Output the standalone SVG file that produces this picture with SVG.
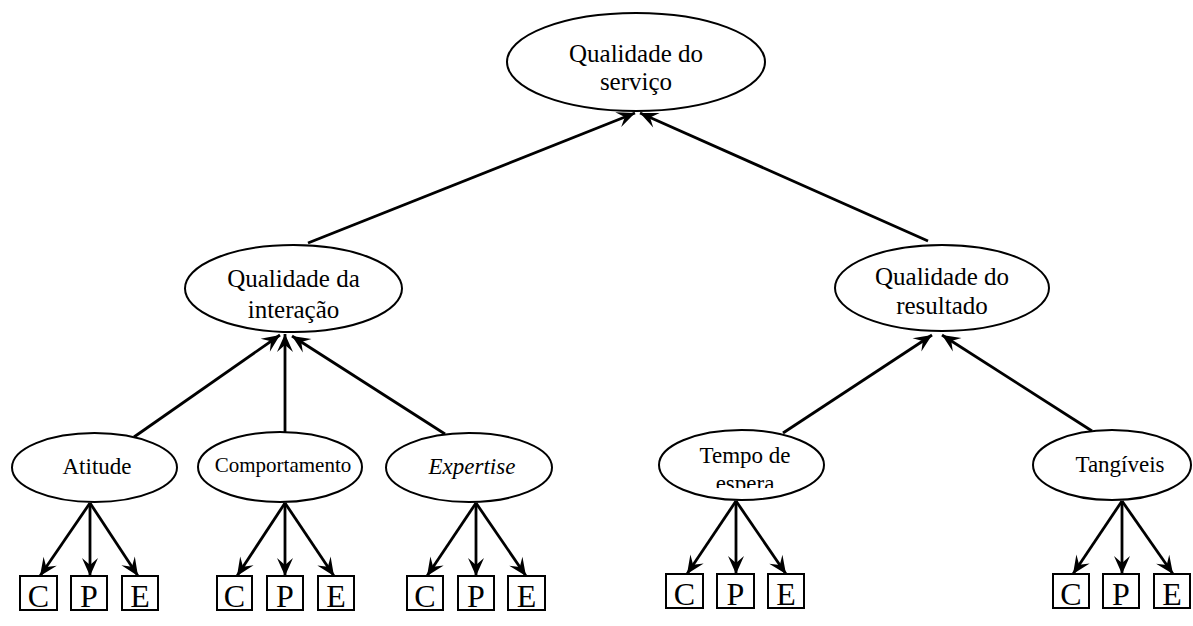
<svg xmlns="http://www.w3.org/2000/svg" width="1193" height="626" viewBox="0 0 1193 626">
  <style>
    .node ellipse { fill: #fff; stroke: #000; stroke-width: 2; }
    .box rect { fill: #fff; stroke: #000; stroke-width: 2; }
    text { font-family: "Liberation Serif", "Times New Roman", serif; fill: #000; text-anchor: middle; }
    .lbl { font-size: 25px; }
    .lbl-s { font-size: 23px; }
    .lbl-xs { font-size: 21px; }
    .letter { font-size: 32px; }
    .conn line { stroke: #000; stroke-width: 2.8; marker-end: url(#head); }
  </style>
  <defs>
    <marker id="head" viewBox="-19 -9 20 18" refX="0" refY="0" markerUnits="userSpaceOnUse" markerWidth="20" markerHeight="18" orient="auto">
      <path d="M0,0 L-18,-8 L-11,0 L-18,8 Z" fill="#000"/>
    </marker>
    <clipPath id="clipEspera">
      <rect x="650" y="420" width="190" height="68"/>
    </clipPath>
  </defs>

  <!-- connectors -->
  <g id="connectors" class="conn">
    <line x1="308" y1="243" x2="635" y2="113"/>
    <line x1="928" y1="241" x2="640" y2="113"/>
    <line x1="134" y1="437" x2="280" y2="335"/>
    <line x1="285" y1="433" x2="285" y2="334"/>
    <line x1="445" y1="434" x2="292" y2="336"/>
    <line x1="783" y1="433" x2="932" y2="335"/>
    <line x1="1092" y1="431" x2="942" y2="335"/>
    <!-- Atitude -->
    <line x1="90" y1="503" x2="40" y2="576"/>
    <line x1="90" y1="503" x2="90" y2="576"/>
    <line x1="90" y1="503" x2="138" y2="576"/>
    <!-- Comportamento -->
    <line x1="285" y1="503" x2="237" y2="576"/>
    <line x1="285" y1="503" x2="285" y2="576"/>
    <line x1="285" y1="503" x2="334" y2="576"/>
    <!-- Expertise -->
    <line x1="476" y1="503" x2="427" y2="576"/>
    <line x1="476" y1="503" x2="476" y2="576"/>
    <line x1="476" y1="503" x2="526" y2="576"/>
    <!-- Tempo de espera -->
    <line x1="736" y1="501" x2="687" y2="574"/>
    <line x1="736" y1="501" x2="736" y2="574"/>
    <line x1="736" y1="501" x2="786" y2="574"/>
    <!-- Tangiveis -->
    <line x1="1122" y1="501" x2="1073" y2="574"/>
    <line x1="1122" y1="501" x2="1122" y2="574"/>
    <line x1="1122" y1="501" x2="1173" y2="574"/>
  </g>

  <g id="servico" class="node">
    <ellipse cx="636" cy="62" rx="129" ry="49"/>
    <text class="lbl" x="636" y="62">Qualidade do</text>
    <text class="lbl" x="636" y="90">serviço</text>
  </g>
  <g id="interacao" class="node">
    <ellipse cx="293.5" cy="288.5" rx="108.5" ry="43.5"/>
    <text class="lbl" x="293.5" y="287">Qualidade da</text>
    <text class="lbl" x="293.5" y="318">interação</text>
  </g>
  <g id="resultado" class="node">
    <ellipse cx="942" cy="288" rx="107" ry="43"/>
    <text class="lbl" x="942" y="285">Qualidade do</text>
    <text class="lbl" x="942" y="314">resultado</text>
  </g>
  <g id="atitude" class="node">
    <ellipse cx="94.5" cy="467.5" rx="82.5" ry="34.5"/>
    <text class="lbl-s" x="97" y="474">Atitude</text>
  </g>
  <g id="comportamento" class="node">
    <ellipse cx="280" cy="467" rx="82" ry="35"/>
    <text class="lbl-xs" x="283" y="472">Comportamento</text>
  </g>
  <g id="expertise" class="node">
    <ellipse cx="469" cy="467.5" rx="83" ry="34.5"/>
    <text class="lbl-s" x="472" y="474" font-style="italic">Expertise</text>
  </g>
  <g id="tempo" class="node">
    <ellipse cx="741.5" cy="465" rx="82.5" ry="35"/>
    <text class="lbl-s" x="745" y="463">Tempo de</text>
    <text class="lbl-s" x="745" y="491" clip-path="url(#clipEspera)">espera</text>
  </g>
  <g id="tangiveis" class="node">
    <ellipse cx="1112" cy="465" rx="79" ry="35"/>
    <text class="lbl-s" x="1120" y="472">Tangíveis</text>
  </g>

  <!-- C / P / E indicator boxes -->
  <g id="atitude-cpe" class="box">
    <rect x="20" y="576" width="37" height="34"/><text class="letter" x="38.5" y="607">C</text>
    <rect x="71" y="576" width="36" height="34"/><text class="letter" x="89" y="607">P</text>
    <rect x="122" y="576" width="36" height="34"/><text class="letter" x="140" y="607">E</text>
  </g>
  <g id="comportamento-cpe" class="box">
    <rect x="217" y="576" width="35" height="34"/><text class="letter" x="234.5" y="607">C</text>
    <rect x="267" y="576" width="36" height="34"/><text class="letter" x="285" y="607">P</text>
    <rect x="318" y="576" width="36" height="34"/><text class="letter" x="336" y="607">E</text>
  </g>
  <g id="expertise-cpe" class="box">
    <rect x="407" y="576" width="36" height="34"/><text class="letter" x="425" y="607">C</text>
    <rect x="458" y="576" width="36" height="34"/><text class="letter" x="476" y="607">P</text>
    <rect x="508" y="576" width="37" height="34"/><text class="letter" x="526.5" y="607">E</text>
  </g>
  <g id="tempo-cpe" class="box">
    <rect x="666" y="574" width="37" height="34"/><text class="letter" x="684.5" y="605">C</text>
    <rect x="717" y="574" width="37" height="34"/><text class="letter" x="735.5" y="605">P</text>
    <rect x="768" y="574" width="36" height="34"/><text class="letter" x="786" y="605">E</text>
  </g>
  <g id="tangiveis-cpe" class="box">
    <rect x="1053" y="574" width="36" height="34"/><text class="letter" x="1071" y="605">C</text>
    <rect x="1103" y="574" width="36" height="34"/><text class="letter" x="1121" y="605">P</text>
    <rect x="1154" y="574" width="36" height="34"/><text class="letter" x="1172" y="605">E</text>
  </g>
</svg>
